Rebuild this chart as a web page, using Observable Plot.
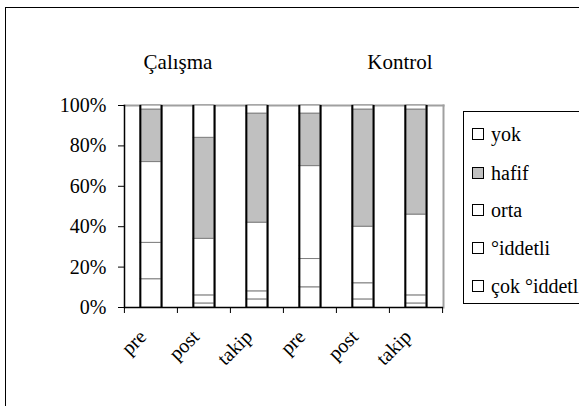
<!DOCTYPE html>
<html><head><meta charset="utf-8">
<script src="https://cdn.jsdelivr.net/npm/d3@7"></script>
<script src="https://cdn.jsdelivr.net/npm/@observablehq/plot@0.6"></script>
<style>
body{margin:0;background:#fff;}
#wrap{position:relative;width:579px;height:406px;overflow:hidden;font-family:"Liberation Serif","Times New Roman",serif;color:#000;}
#frame{position:absolute;left:5px;top:7px;width:700px;height:500px;border:1px solid #000;}
#chart{position:absolute;left:0;top:0;}
.title{position:absolute;font-family:"Liberation Serif",serif;font-size:21px;line-height:21px;top:52px;white-space:nowrap;transform:translateX(-50%);}
#legend{position:absolute;left:463px;top:111px;width:200px;height:191px;border:1px solid #000;background:#fff;}
.item{position:absolute;left:8px;font-family:"Liberation Serif",serif;font-size:20px;line-height:20px;white-space:nowrap;}
.sw{position:absolute;left:0;top:4px;width:10px;height:10px;border:1px solid #000;}
.lab{position:absolute;left:19px;top:0;}
</style></head>
<body>
<div id="wrap">
  <div id="frame"></div>
  <div id="chart"></div>
  <div class="title" style="left:178px">Çalışma</div>
  <div class="title" style="left:400px">Kontrol</div>
  <div id="legend"></div>
</div>
<script>
const groups = ["Çalışma", "Kontrol"];
const periods = ["pre", "post", "takip"];
const levels = ["çok °iddetli", "°iddetli", "orta", "hafif", "yok"]; // bottom to top
const legendOrder = ["yok", "hafif", "orta", "°iddetli", "çok °iddetli"];
const levelColors = ["#ffffff", "#ffffff", "#ffffff", "#c0c0c0", "#ffffff"];
const yTicks = [0, 20, 40, 60, 80, 100];
// percentages per bar: Çalışma pre, post, takip, Kontrol pre, post, takip
const cokSiddetli = [14, 2, 4, 10, 4, 2];
const siddetli   = [18, 4, 4, 14, 8, 4];
const orta       = [40, 28, 34, 46, 28, 40];
const hafif      = [26, 50, 54, 26, 58, 52];
const yok        = [2, 16, 4, 4, 2, 2];

const series = [cokSiddetli, siddetli, orta, hafif, yok];
const ids = [];
groups.forEach(g => periods.forEach(p => ids.push(g + "|" + p)));
const rows = [];
levels.forEach((lv, li) => ids.forEach((id, i) => rows.push({id, level: lv, value: series[li][i]})));

const W = 579, H = 406, mL = 124, mR = 136, mT = 105, mB = 99;
const step = (W - mL - mR) / ids.length;
const bw = step * 0.4;
const font = "'Liberation Serif','Times New Roman',serif";

const chart = Plot.plot({
  width: W, height: H,
  marginLeft: mL, marginRight: mR, marginTop: mT, marginBottom: mB,
  style: {fontFamily: font, fontSize: "20px", color: "#000", background: "transparent"},
  x: {domain: ids, paddingInner: 0.6, paddingOuter: 0.3, axis: null, label: null},
  y: {domain: [0, 100], axis: null, label: null},
  color: {domain: levels, range: levelColors},
  marks: [
    Plot.frame({anchor: "top", stroke: "#a0a0a0", strokeWidth: 2}),
    Plot.frame({anchor: "right", stroke: "#a0a0a0", strokeWidth: 2}),
    Plot.rectY(rows, {x: "id", y: "value", fill: "level", stroke: "#808080", strokeWidth: 1}),
    Plot.ruleX(ids, {x: d => d, dx: -bw / 2, y1: 0, y2: 100, stroke: "#000", strokeWidth: 2}),
    Plot.ruleX(ids, {x: d => d, dx: bw / 2, y1: 0, y2: 100, stroke: "#000", strokeWidth: 2}),
    Plot.axisY({ticks: yTicks, tickFormat: d => d + "%", tickSize: 6, tickPadding: 12, fontSize: 20, label: null}),
    Plot.axisX({ticks: ids, tickFormat: () => "", tickSize: 6, dx: -step / 2, label: null}),
    Plot.axisX({ticks: [ids[ids.length - 1]], tickFormat: () => "", tickSize: 6, dx: step / 2, label: null}),
    Plot.axisX({ticks: ids, tickFormat: d => d.split("|")[1], tickSize: 0, tickRotate: -45, tickPadding: 26, fontSize: 20, dx: -8, label: null}),
    Plot.frame({anchor: "left", stroke: "#000", strokeWidth: 1.5}),
    Plot.ruleY([0], {stroke: "#000", strokeWidth: 1.5})
  ]
});
document.getElementById("chart").appendChild(chart);

const leg = document.getElementById("legend");
const tops = [12, 51, 88, 126, 164];
legendOrder.forEach((lv, i) => {
  const it = document.createElement("div");
  it.className = "item";
  it.style.top = tops[i] + "px";
  const sw = document.createElement("div");
  sw.className = "sw";
  sw.style.background = levelColors[levels.indexOf(lv)];
  const lb = document.createElement("div");
  lb.className = "lab";
  lb.textContent = lv;
  it.appendChild(sw); it.appendChild(lb);
  leg.appendChild(it);
});
</script>
</body></html>
